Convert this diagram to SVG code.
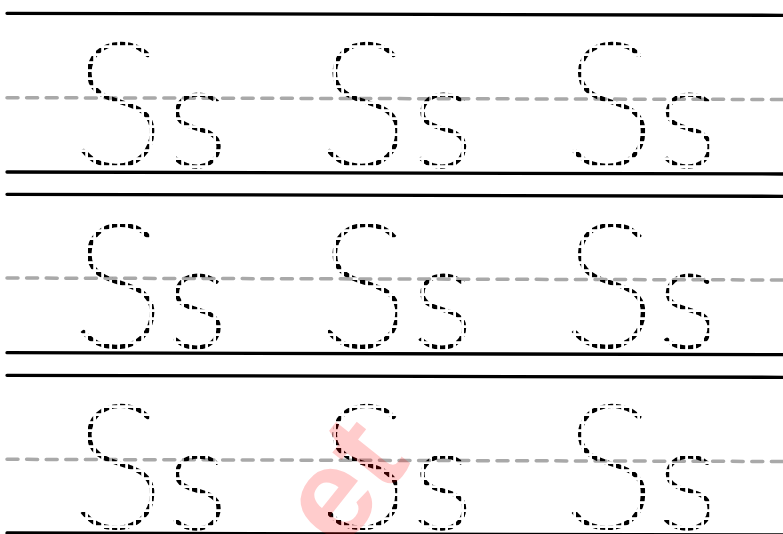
<svg xmlns="http://www.w3.org/2000/svg" width="783" height="534" viewBox="0 0 783 534">
<style>
.rule{stroke:#000;stroke-width:3.3;stroke-linecap:round;fill:none}
.mid{stroke:#a9a9a9;stroke-width:3.5;stroke-linecap:round;stroke-dasharray:11 8.6;fill:none}
.lt{font-family:Lato,"Liberation Sans",sans-serif;font-weight:100;font-size:172px;fill:#000;stroke:#000;stroke-width:2.7}
.wm{font-family:"Liberation Sans",Arial,sans-serif;font-weight:bold;font-size:130px;fill:#ff0000;fill-opacity:0.2}
</style>
<defs>
<pattern id="grid" width="8" height="8" patternUnits="userSpaceOnUse"><rect width="5.2" height="5.2" fill="#fff"/></pattern>
<mask id="m" maskUnits="userSpaceOnUse" x="0" y="0" width="783" height="534"><rect width="783" height="534" fill="url(#grid)"/></mask>
</defs>
<g id="rules">
<line class="rule" x1="7" y1="13.3" x2="783" y2="15.3"/>
<line class="mid" x1="7" y1="97.7" x2="783" y2="99.5"/>
<line class="rule" x1="7" y1="172" x2="783" y2="174"/>
<line class="rule" x1="7" y1="194.3" x2="783" y2="196.3"/>
<line class="mid" x1="7" y1="278" x2="783" y2="280"/>
<line class="rule" x1="7" y1="352.7" x2="783" y2="354.7"/>
<line class="rule" x1="7" y1="375.3" x2="783" y2="377.3"/>
<line class="mid" x1="7" y1="459.3" x2="783" y2="461.5"/>
<line class="rule" x1="7" y1="533" x2="783" y2="535"/>
</g>
<g id="letters" mask="url(#m)">
<g id="row1">
<text class="lt" x="73" y="166">S<tspan font-size="144" dx="3">s</tspan></text>
<text class="lt" x="318.5" y="166">S<tspan font-size="144" dx="3">s</tspan></text>
<text class="lt" x="564" y="166">S<tspan font-size="144" dx="3">s</tspan></text>
</g>
<g id="row2">
<text class="lt" x="73" y="347">S<tspan font-size="144" dx="3">s</tspan></text>
<text class="lt" x="318.5" y="347">S<tspan font-size="144" dx="3">s</tspan></text>
<text class="lt" x="564" y="347">S<tspan font-size="144" dx="3">s</tspan></text>
</g>
<g id="row3">
<text class="lt" x="73" y="528">S<tspan font-size="144" dx="3">s</tspan></text>
<text class="lt" x="318.5" y="528">S<tspan font-size="144" dx="3">s</tspan></text>
<text class="lt" x="564" y="528">S<tspan font-size="144" dx="3">s</tspan></text>
</g>
</g>
<g id="watermark">
<text class="wm" transform="translate(340,553) rotate(-51.5)">et</text>
</g>
</svg>
